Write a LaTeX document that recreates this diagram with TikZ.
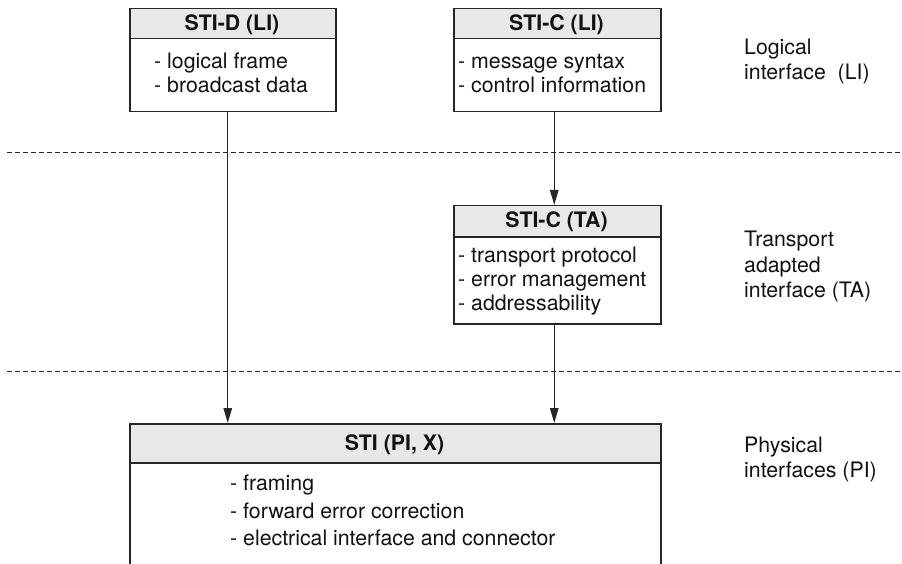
\documentclass[tikz,border=0pt]{standalone}
\usepackage{fontspec}
\setmainfont{TeX Gyre Heros}
\usetikzlibrary{arrows.meta}
\definecolor{lineC}{RGB}{38,38,38}
\definecolor{hdrC}{RGB}{232,232,232}
\definecolor{textC}{RGB}{17,17,17}
\begin{document}
\begin{tikzpicture}[x=1pt,y=-1pt,
  hdr/.style={draw=lineC, line width=1.5pt, fill=hdrC, inner sep=0pt, anchor=north west},
  bdy/.style={draw=lineC, line width=1.5pt, fill=white, inner sep=0pt, anchor=north west},
  ttl/.style={font=\bfseries\fontsize{21.3}{25}\selectfont, anchor=base, inner sep=0pt, text=textC},
  txt/.style={font=\fontsize{21.3}{25}\selectfont, anchor=base west, inner sep=0pt, text=textC},
  sep/.style={draw=lineC, line width=1pt, dash pattern=on 5pt off 3pt},
  arr/.style={draw=lineC, line width=1.3pt, -{Triangle[length=15pt,width=8.5pt]}}]
\useasboundingbox (0,0) rectangle (902,564);

% separators
\coordinate (s1a) at (7,153);
\coordinate (s1b) at (900,153);
\coordinate (s2a) at (7,371);
\coordinate (s2b) at (900,371);
\draw[sep] (s1a) -- (s1b);
\draw[sep] (s2a) -- (s2b);

% STI-D (LI)
\node[bdy, minimum width=206pt, minimum height=73pt] (db) at (129,38) {};
\node[hdr, minimum width=206pt, minimum height=30pt] (dh) at (129,8) {};
\node[ttl] (dt) at (232,31) {STI-D (LI)};
\node[txt] (d1) at (154,69) {- logical frame};
\node[txt] (d2) at (154,93) {- broadcast data};

% STI-C (LI)
\node[bdy, minimum width=207pt, minimum height=73pt] (cb) at (453,38) {};
\node[hdr, minimum width=207pt, minimum height=30pt] (ch) at (453,8) {};
\node[ttl] (ct) at (556.5,31) {STI-C (LI)};
\node[txt] (c1) at (458,69) {- message syntax};
\node[txt] (c2) at (458,93) {- control information};

% STI-C (TA)
\node[bdy, minimum width=207pt, minimum height=87pt] (tb) at (453,236) {};
\node[hdr, minimum width=207pt, minimum height=31pt] (th) at (453,205) {};
\node[ttl] (tt) at (556.5,228) {STI-C (TA)};
\node[txt] (t1) at (458,262) {- transport protocol};
\node[txt] (t2) at (458,286) {- error management};
\node[txt] (t3) at (458,310) {- addressability};

% STI (PI, X)
\node[bdy, minimum width=531pt, minimum height=102pt] (sb) at (129,462) {};
\node[hdr, minimum width=531pt, minimum height=39pt] (sh) at (129,423) {};
\node[ttl] (st) at (394.5,450) {STI (PI, X)};
\node[txt] (s1) at (230,490) {- framing};
\node[txt] (s2) at (230,518) {- forward error correction};
\node[txt] (s3) at (230,545) {- electrical interface and connector};

% right labels
\node[txt] (l1) at (744,55) {Logical};
\node[txt] (l2) at (744,80) {interface\ \ (LI)};
\node[txt] (a1) at (744,247) {Transport};
\node[txt] (a2) at (744,272) {adapted};
\node[txt] (a3) at (744,297) {interface (TA)};
\node[txt] (p1) at (744,452) {Physical};
\node[txt] (p2) at (744,477) {interfaces (PI)};

% connectors
\draw[arr] ([xshift=-5pt]db.south) -- ([xshift=-5pt]db.south |- sh.north);
\draw[arr] ([xshift=-3pt]cb.south) -- ([xshift=-3pt]cb.south |- th.north);
\draw[arr] ([xshift=-3pt]tb.south) -- ([xshift=-3pt]tb.south |- sh.north);
\end{tikzpicture}
\end{document}
